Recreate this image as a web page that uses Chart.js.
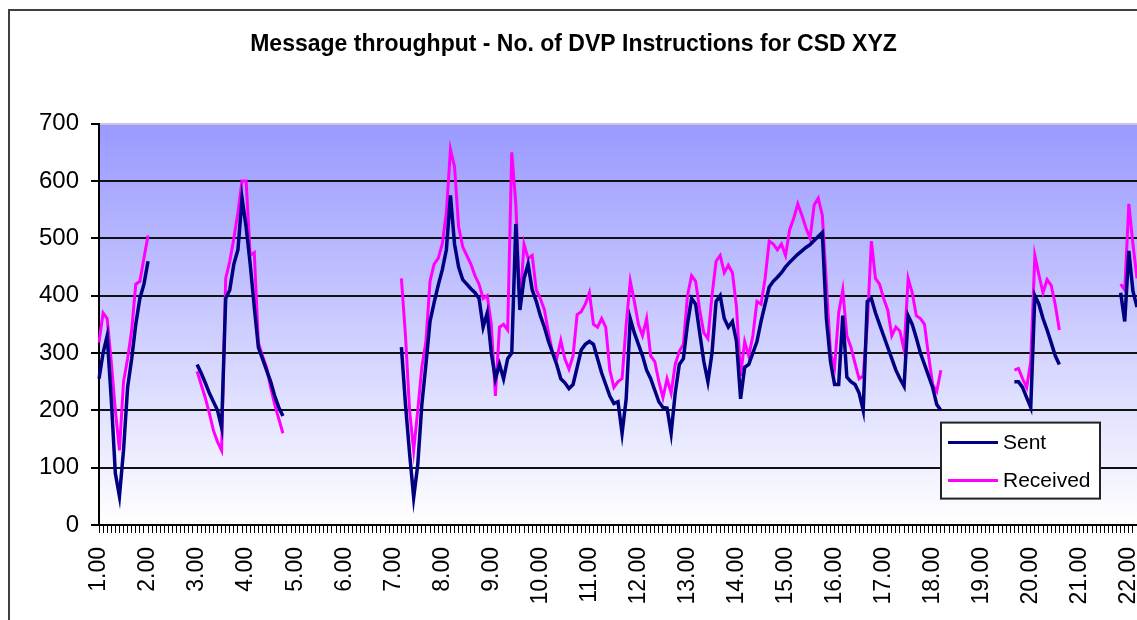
<!DOCTYPE html>
<html>
  <head>
    <meta charset="utf-8" />
    <title>Message throughput</title>
    <script src="https://cdn.jsdelivr.net/npm/chart.js"></script>
    <style>
      html, body { margin: 0; padding: 0; background: #fff; overflow: hidden; }
      #frame {
        position: absolute; left: 8px; top: 9px;
        width: 1200px; height: 700px;
        border: 2px solid #404040; background: #fff;
      }
      #dvpChart { position: absolute; left: 0; top: 0; }
    </style>
  </head>
  <body>
    <div id="frame">
      <canvas id="dvpChart" width="1134" height="609"></canvas>
    </div>

    <script>
      // Zeitachse: alle 5 Minuten ein Messpunkt, 1.00 bis 22.10
      var timeLabels = [];
      for (var h = 1; h <= 22; h++) {
        for (var m = 0; m < 60; m += 5) {
          timeLabels.push(h + "." + (m < 10 ? "0" : "") + m);
        }
      }
      timeLabels = timeLabels.slice(0, 255);

      // Gesendete DVP-Instruktionen (null = keine Messung)
      var sentCounts = [
        255, 300, 330, 220, 90, 50, 130, 240, 290, 350, 395, 420,              // 1.00
        460, null, null, null, null, null, null, null, null, null, null, null, // 2.00
        280, 265, 248, 230, 215, 200, 170, 395, 410, 455, 480, 570,           // 3.00
        520, 455, 380, 310, 290, 270, 250, 225, 205, 190, null, null,         // 4.00
        null, null, null, null, null, null, null, null, null, null, null, null, // 5.00
        null, null, null, null, null, null, null, null, null, null, null, null, // 6.00
        null, null, 310, 210, 125, 48, 105, 210, 280, 355, 388, 418,          // 7.00
        445, 480, 575, 490, 450, 428, 420, 412, 405, 395, 345, 370,           // 8.00
        300, 255, 280, 255, 290, 300, 525, 375, 430, 455, 410, 390,           // 9.00
        365, 345, 320, 300, 280, 255, 248, 238, 245, 275, 305, 315,           // 10.00
        320, 315, 290, 265, 245, 225, 212, 215, 160, 220, 360, 335,           // 11.00
        315, 295, 270, 255, 235, 215, 205, 204, 160, 230, 280, 290,           // 12.00
        350, 395, 385, 335, 285, 250, 300, 390, 400, 360, 345, 355,           // 13.00
        320, 220, 275, 280, 300, 320, 355, 385, 415, 425, 432, 440,           // 14.00
        450, 458, 465, 472, 478, 484, 489, 496, 503, 510, 360, 285,           // 15.00
        245, 245, 365, 258, 250, 245, 230, 200, 390, 395, 370, 350,           // 16.00
        330, 310, 290, 270, 255, 242, 365, 350, 326, 300, 280, 260,           // 17.00
        240, 210, 200, null, null, null, null, null, null, null, null, null,  // 18.00
        null, null, null, null, null, null, null, null, 250, 250, 240, 222,   // 19.00
        205, 400, 385, 360, 340, 318, 295, 280, null, null, null, null,       // 20.00
        null, null, null, null, null, null, null, null, null, null, 405, 355, // 21.00
        478, 408, 380                                                          // 22.00
      ];

      // Empfangene DVP-Instruktionen
      var receivedCounts = [
        318, 370, 360, 285, 200, 130, 250, 290, 340, 420, 425, 465,           // 1.00
        505, null, null, null, null, null, null, null, null, null, null, null, // 2.00
        268, 245, 222, 195, 165, 145, 130, 430, 460, 500, 545, 600,           // 3.00
        600, 470, 475, 318, 295, 275, 240, 210, 185, 160, null, null,         // 4.00
        null, null, null, null, null, null, null, null, null, null, null, null, // 5.00
        null, null, null, null, null, null, null, null, null, null, null, null, // 6.00
        null, null, 430, 330, 200, 130, 200, 275, 320, 425, 455, 465,         // 7.00
        490, 545, 655, 625, 520, 485, 470, 455, 435, 420, 395, 400,           // 8.00
        350, 225, 345, 350, 340, 650, 560, 380, 490, 465, 470, 410,           // 9.00
        395, 375, 335, 300, 290, 322, 290, 272, 295, 367, 372, 385,           // 10.00
        405, 350, 345, 360, 345, 270, 240, 250, 255, 350, 425, 390,           // 11.00
        350, 330, 360, 295, 285, 250, 222, 255, 230, 280, 303, 315,           // 12.00
        400, 435, 425, 375, 335, 325, 400, 460, 470, 440, 453, 440,           // 13.00
        380, 260, 320, 295, 330, 390, 385, 430, 495, 490, 480, 490,           // 14.00
        470, 515, 535, 560, 540, 518, 500, 558, 570, 540, 420, 300,           // 15.00
        275, 370, 410, 330, 310, 282, 255, 260, 350, 495, 430, 420,           // 16.00
        395, 375, 330, 345, 338, 305, 430, 405, 365, 360, 350, 295,           // 17.00
        245, 233, 270, null, null, null, null, null, null, null, null, null,  // 18.00
        null, null, null, null, null, null, null, null, 270, 273, 255, 240,   // 19.00
        285, 470, 436, 405, 428, 418, 384, 340, null, null, null, null,       // 20.00
        null, null, null, null, null, null, null, null, null, null, 420, 410, // 21.00
        560, 490, 430                                                          // 22.00
      ];

      var yTicks = [0, 100, 200, 300, 400, 500, 600, 700];
      var fontFamily = "'Liberation Sans', Arial, sans-serif";

      // Hintergrund der Zeichenfläche: Verlauf von blau nach weiss
      var plotBackground = {
        id: "plotBackground",
        beforeDraw: function (chart) {
          var a = chart.chartArea;
          var ctx = chart.ctx;
          var g = ctx.createLinearGradient(0, a.top, 0, a.bottom);
          g.addColorStop(0, "#9999ff");
          g.addColorStop(1, "#ffffff");
          ctx.save();
          ctx.fillStyle = g;
          ctx.fillRect(a.left, a.top, a.right - a.left, a.bottom - a.top);
          ctx.restore();
        },
      };

      // Legende als Kasten unten rechts in der Zeichenfläche
      var legendBox = {
        id: "legendBox",
        afterDraw: function (chart) {
          var ctx = chart.ctx;
          var a = chart.chartArea;
          var x = a.left + 842, y = a.top + 299, w = 159, h = 76;
          ctx.save();
          ctx.fillStyle = "#fff";
          ctx.fillRect(x, y, w, h);
          ctx.lineWidth = 2;
          ctx.strokeStyle = "#222";
          ctx.strokeRect(x, y, w, h);
          ctx.font = "21px " + fontFamily;
          ctx.textBaseline = "middle";
          chart.data.datasets.forEach(function (ds, i) {
            var rowY = y + 20 + i * 38;
            ctx.strokeStyle = ds.borderColor;
            ctx.lineWidth = 3;
            ctx.beginPath();
            ctx.moveTo(x + 7, rowY);
            ctx.lineTo(x + 57, rowY);
            ctx.stroke();
            ctx.fillStyle = "#000";
            ctx.fillText(ds.label, x + 62, rowY + 1);
          });
          ctx.restore();
        },
      };

      var canvas = document.getElementById("dvpChart").getContext("2d");
      window.myChart = new Chart(canvas, {
        type: "line",
        data: {
          labels: timeLabels,
          datasets: [
            {
              label: "Sent",
              data: sentCounts,
              borderColor: "#000080",
              borderWidth: 3.5,
              pointRadius: 0,
              tension: 0,
              spanGaps: false,
            },
            {
              label: "Received",
              data: receivedCounts,
              borderColor: "#ff00ff",
              borderWidth: 3,
              pointRadius: 0,
              tension: 0,
              spanGaps: false,
            },
          ],
        },
        options: {
          responsive: false,
          animation: false,
          devicePixelRatio: 1,
          layout: { padding: { right: 7 } },
          scales: {
            x: {
              offset: false,
              grid: {
                drawOnChartArea: false,
                drawTicks: true,
                tickLength: 8,
                tickWidth: 1,
                tickColor: "#000",
              },
              border: { color: "#000", width: 2 },
              ticks: {
                autoSkip: false,
                minRotation: 90,
                maxRotation: 90,
                padding: 14,
                color: "#000",
                font: { size: 23, family: fontFamily },
                callback: function (value) {
                  var t = this.getLabelForValue(value);
                  return t.slice(-3) === ".00" ? t : "";
                },
              },
              afterFit: function (scale) {
                scale.height = 95;
                scale.paddingRight = 0;
                scale.paddingLeft = 0;
              },
            },
            y: {
              min: 0,
              max: 700,
              afterBuildTicks: function (scale) {
                scale.ticks = yTicks.map(function (v) { return { value: v }; });
              },
              grid: {
                color: function (ctx) {
                  return ctx.tick && ctx.tick.value === 700 ? "#c8c8dc" : "#111";
                },
                lineWidth: 2,
                tickLength: 8,
                tickWidth: 2,
                tickColor: "#000",
              },
              border: { color: "#000", width: 2 },
              ticks: {
                padding: 12,
                color: "#000",
                font: { size: 24, family: fontFamily },
              },
              afterFit: function (scale) {
                scale.width = 89;
              },
            },
          },
          plugins: {
            legend: { display: false },
            tooltip: { enabled: false },
            title: {
              display: true,
              text: "Message throughput - No. of DVP Instructions for CSD XYZ",
              color: "#000",
              font: { size: 23, weight: "bold", family: fontFamily },
              padding: { top: 20, bottom: 65 },
            },
          },
        },
        plugins: [plotBackground, legendBox],
      });
    </script>
  </body>
</html>
